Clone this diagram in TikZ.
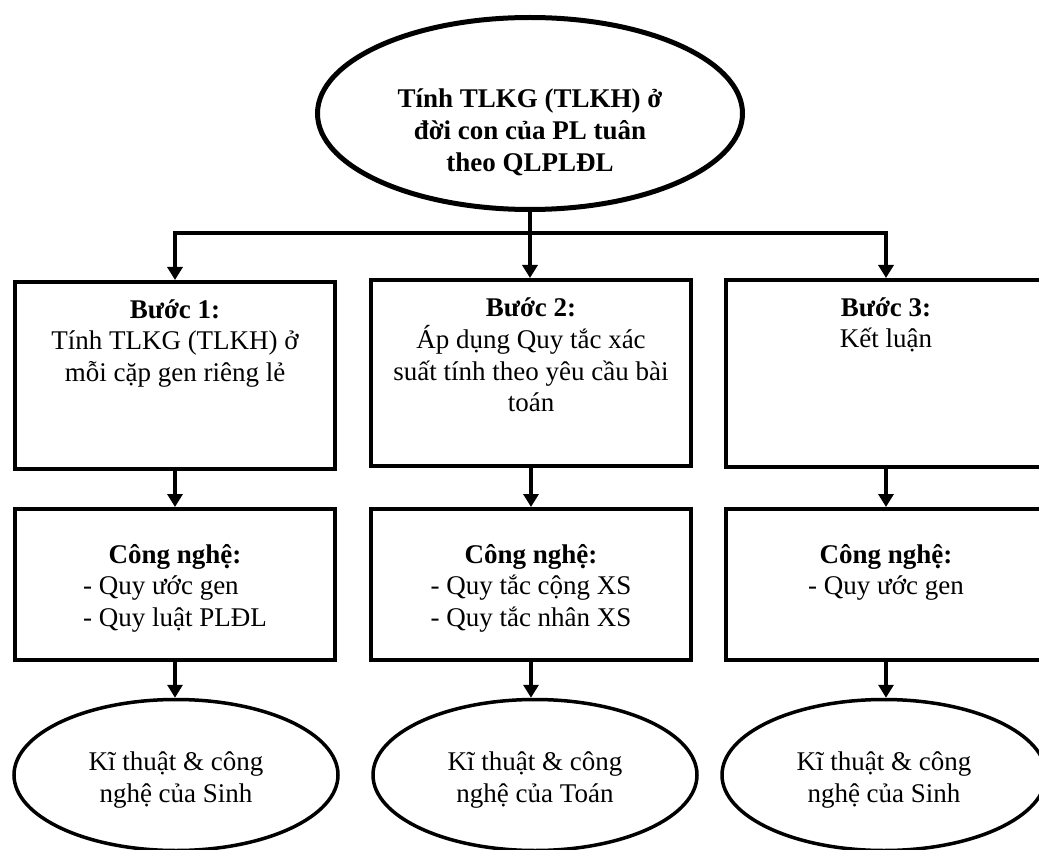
\documentclass[tikz,border=0pt]{standalone}
\usepackage{fontspec}
\setmainfont{Liberation Serif}
\usetikzlibrary{shapes.geometric,arrows.meta}
\newcommand\bxtxt[3]{\parbox[c][#1][t]{316pt}{\centering\rule{0pt}{#2}#3}}
\newcommand\eltxt[4]{\parbox[c][#1][t]{#2}{\centering\rule{0pt}{#3}#4}}
\tikzset{
  box/.style={draw, rectangle, line width=4pt, inner sep=0pt, minimum width=320pt,
    font=\fontsize{27}{31.5}\selectfont},
  topell/.style={draw, ellipse, line width=5pt, inner sep=0pt, minimum width=425pt,
    minimum height=192pt, font=\bfseries\fontsize{27}{32}\selectfont},
  botell/.style={draw, ellipse, line width=3.5pt, inner sep=0pt, minimum width=324pt,
    minimum height=151pt, font=\fontsize{27}{32}\selectfont},
  arr/.style={line width=3.5pt, -{Triangle[length=13pt,width=15pt]}},
  busline/.style={line width=3.5pt},
}
\begin{document}
\begin{tikzpicture}[x=1pt,y=-1pt]
\useasboundingbox (0,0) rectangle (1039,850);
\clip (0,0) rectangle (1039,850);
% top ellipse
\node[topell] (top) at (530,113.5)
  {\eltxt{100pt}{300pt}{44.5pt}{Tính TLKG (TLKH) ở\\ đời con của PL tuân\\ theo QLPLĐL}};
% row 1
\node[box, minimum height=187pt] (b1) at (175,375.5)
  {\bxtxt{187pt}{36pt}{\textbf{Bước 1:}\\ Tính TLKG (TLKH) ở\\ mỗi cặp gen riêng lẻ}};
\node[box, minimum height=186pt] (b2) at (531,373)
  {\bxtxt{186pt}{37pt}{\textbf{Bước 2:}\\ Áp dụng Quy tắc xác\\ suất tính theo yêu cầu bài\\ toán}};
\node[box, minimum height=187pt] (b3) at (886,373.5)
  {\bxtxt{187pt}{36pt}{\textbf{Bước 3:}\\ Kết luận}};
% row 2
\node[box, minimum height=151pt] (c1) at (175,584.5)
  {\bxtxt{151pt}{54pt}{\textbf{Công nghệ:}\\ \begin{tabular}[t]{@{}l@{}}- Quy ước gen\\ - Quy luật PLĐL\end{tabular}}};
\node[box, minimum height=151pt] (c2) at (531,584.5)
  {\bxtxt{151pt}{54pt}{\textbf{Công nghệ:}\\ \begin{tabular}[t]{@{}l@{}}- Quy tắc cộng XS\\ - Quy tắc nhân XS\end{tabular}}};
\node[box, minimum height=151pt] (c3) at (886,584.5)
  {\bxtxt{151pt}{54pt}{\textbf{Công nghệ:}\\ - Quy ước gen}};
% bottom ellipses
\node[botell] (e1) at (176,775)
  {\eltxt{80pt}{200pt}{35pt}{Kĩ thuật \& công\\ nghệ của Sinh}};
\node[botell] (e2) at (535,775)
  {\eltxt{80pt}{200pt}{35pt}{Kĩ thuật \& công\\ nghệ của Toán}};
\node[botell] (e3) at (884,775)
  {\eltxt{80pt}{200pt}{35pt}{Kĩ thuật \& công\\ nghệ của Sinh}};
% connectors
\coordinate (bus) at (530,233);
\draw[busline] ([xshift=-1.75pt]b1.north |- bus) -- ([xshift=1.75pt]b3.north |- bus);
\draw[arr] (top.south) -- (top.south |- b2.north);
\draw[arr] (b1.north |- bus) -- (b1.north);
\draw[arr] (b3.north |- bus) -- (b3.north);
\draw[arr] (b1.south) -- (c1.north);
\draw[arr] (b2.south) -- (c2.north);
\draw[arr] (b3.south) -- (c3.north);
\draw[arr] (c1.south) -- (c1.south |- e1.north);
\draw[arr] (c2.south) -- (c2.south |- e2.north);
\draw[arr] (c3.south) -- (c3.south |- e3.north);
\end{tikzpicture}
\end{document}
